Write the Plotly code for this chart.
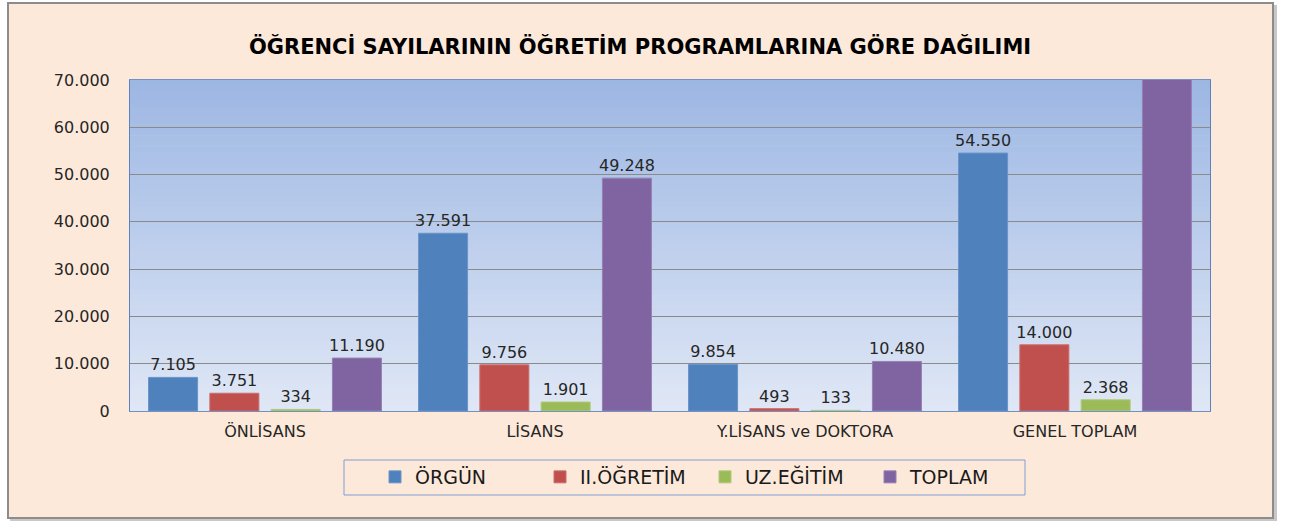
import plotly.graph_objects as go

categories = ["ÖNLİSANS", "LİSANS", "Y.LİSANS ve DOKTORA", "GENEL TOPLAM"]
series_names = ["ÖRGÜN", "II.ÖĞRETİM", "UZ.EĞİTİM", "TOPLAM"]
orgun = [7105, 37591, 9854, 54550]
ii_ogretim = [3751, 9756, 493, 14000]
uz_egitim = [334, 1901, 133, 2368]
toplam = [11190, 49248, 10480, 70918]
y_ticks = [0, 10000, 20000, 30000, 40000, 50000, 60000, 70000]

colors = ["#4F81BD", "#C0504D", "#9BBB59", "#8064A2"]
edge = ["#6A94C8", "#CC6E6B", "#AECA78", "#9580B2"]
YMAX = 70000
FONT = "DejaVu Sans"

def fmt(v):
    return "" if v > YMAX else f"{v:,}".replace(",", ".")

fig = go.Figure()
for name, vals, c, e in zip(series_names, [orgun, ii_ogretim, uz_egitim, toplam], colors, edge):
    fig.add_trace(go.Bar(
        x=categories, y=vals, name=name,
        marker=dict(color=c, line=dict(color=e, width=1)),
        text=[fmt(v) for v in vals], textposition="outside",
        textfont=dict(family=FONT, size=16, color="#262626"),
        cliponaxis=True,
    ))

W, H = 1290, 521
L, R, T, B = 130, 80, 80, 110
pw, ph = W - L - R, H - T - B

def px_x(p):
    return (p - L) / pw

def px_y(p):
    return (H - B - p) / ph

shapes = []
shapes.append(dict(type="rect", xref="paper", yref="paper",
                   x0=px_x(10), x1=px_x(1277), y0=px_y(522), y1=px_y(5),
                   fillcolor="#C8C8C8", line=dict(width=0), layer="below"))
shapes.append(dict(type="rect", xref="paper", yref="paper",
                   x0=px_x(8), x1=px_x(1273), y0=px_y(518), y1=px_y(3),
                   fillcolor="#FDE9DA", line=dict(color="#8C8C8C", width=2), layer="below"))
n = 60
top = (157, 183, 227)
bot = (223, 231, 246)
for i in range(n):
    t = i / (n - 1)
    col = tuple(round(top[k] + (bot[k] - top[k]) * t) for k in range(3))
    shapes.append(dict(type="rect", xref="x domain", yref="y domain",
                       x0=0, x1=1, y0=max(0, 1 - (i + 1) / n - 0.002), y1=1 - i / n,
                       fillcolor="rgb(%d,%d,%d)" % col, line=dict(width=0), layer="below"))
shapes.append(dict(type="rect", xref="paper", yref="paper",
                   x0=px_x(344), x1=px_x(1025), y0=px_y(495), y1=px_y(460),
                   line=dict(color="#7F9FD3", width=1), fillcolor="rgba(0,0,0,0)", layer="above"))

fig.update_layout(
    width=W, height=H,
    margin=dict(l=L, r=R, t=T, b=B, autoexpand=False),
    paper_bgcolor="white", plot_bgcolor="rgba(0,0,0,0)",
    separators=",.",
    barmode="group", bargap=0.092, bargroupgap=0.2,
    uniformtext=dict(mode=False),
    font=dict(family=FONT, color="#262626"),
    title=dict(text="<b>ÖĞRENCİ SAYILARININ ÖĞRETİM PROGRAMLARINA GÖRE DAĞILIMI</b>",
               x=640 / W, xanchor="center", y=1 - 47 / H, yanchor="middle",
               font=dict(family=FONT, size=21, color="#000000")),
    xaxis=dict(showgrid=False, showline=True, linecolor="#7390C0", linewidth=1, mirror=True,
               ticks="", ticklabelstandoff=6,
               tickfont=dict(family=FONT, size=16, color="#262626")),
    yaxis=dict(range=[0, YMAX], tickvals=y_ticks, tickformat=",d",
               showgrid=True, gridcolor="#8A8A8A", gridwidth=1,
               zeroline=False, showline=True, linecolor="#5B82C0", linewidth=1, mirror=True,
               ticks="", ticklabelstandoff=16,
               tickfont=dict(family=FONT, size=16, color="#262626")),
    legend=dict(orientation="h", x=px_x(375), xanchor="left",
                y=px_y(477), yanchor="middle", bgcolor="rgba(0,0,0,0)",
                font=dict(family=FONT, size=19, color="#1A1A1A"),
                entrywidth=120, entrywidthmode="pixels"),
    shapes=shapes,
    showlegend=True,
)
fig.update_traces(constraintext="none")

fig.write_html("out.html", config={"displayModeBar": False},
               post_script="document.body.style.margin='0px';")
